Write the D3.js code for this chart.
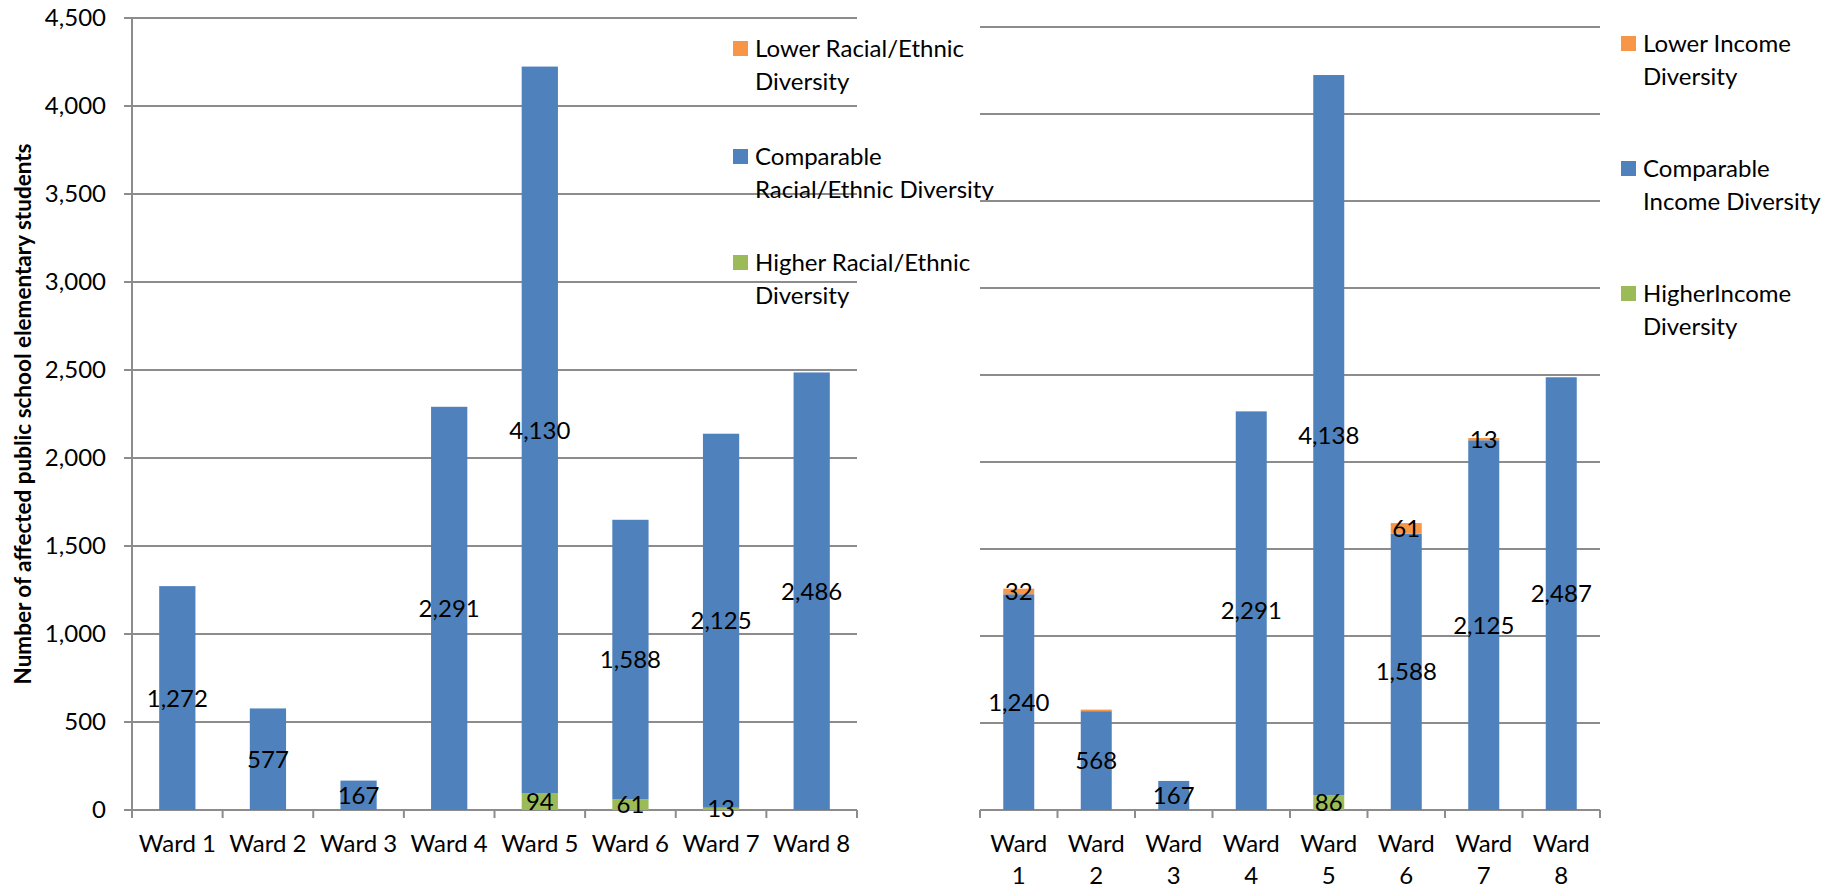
<!DOCTYPE html>
<html>
<head>
<meta charset="utf-8">
<script src="https://cdn.jsdelivr.net/npm/d3@7"></script>
<style>
  html, body { margin: 0; padding: 0; background: #fff; }
  svg { display: block; }
  text { font-family: Lato, "Open Sans", sans-serif; fill: #000; }
</style>
</head>
<body>
<svg id="chart" width="1827" height="890"></svg>
<script>
// Wards shown along both category axes
const wards = ["Ward 1", "Ward 2", "Ward 3", "Ward 4", "Ward 5", "Ward 6", "Ward 7", "Ward 8"];

// Racial/ethnic diversity comparison (left panel)
const raceLower      = [0, 0, 0, 0, 0, 0, 0, 0];
const raceComparable = [1272, 577, 167, 2291, 4130, 1588, 2125, 2486];
const raceHigher     = [0, 0, 0, 0, 94, 61, 13, 0];

// Income diversity comparison (right panel)
const incomeLower      = [32, 9, 0, 0, 0, 61, 13, 0];
const incomeComparable = [1240, 568, 167, 2291, 4138, 1588, 2125, 2487];
const incomeHigher     = [0, 0, 0, 0, 86, 0, 0, 0];

// Value axis ticks
const yTicks = [0, 500, 1000, 1500, 2000, 2500, 3000, 3500, 4000, 4500];

// Legend entries (each line of wrapped text is its own string)
const raceLegend = [
  ["Lower Racial/Ethnic", "Diversity"],
  ["Comparable", "Racial/Ethnic Diversity"],
  ["Higher Racial/Ethnic", "Diversity"]
];
const incomeLegend = [
  ["Lower Income", "Diversity"],
  ["Comparable", "Income Diversity"],
  ["HigherIncome", "Diversity"]
];

const yTitle = "Number of affected public school elementary students";

const colors = { lower: "#F79646", comparable: "#4F81BD", higher: "#9BBB59" };
const gridColor = "#8c8c8c";
const fontSize = 24;
const minLabelValue = 10;
const fmt = d3.format(",");

const svg = d3.select("#chart");

function drawPanel(opt) {
  const g = svg.append("g");
  const x = d3.scaleBand().domain(wards).range([opt.x0, opt.x1]).padding(0);
  const y = d3.scaleLinear().domain([0, 4500]).range([opt.yBase, opt.yTop]);
  const barW = x.bandwidth() * 0.4;

  // Horizontal gridlines
  g.append("g").selectAll("line").data(yTicks).join("line")
    .attr("x1", opt.x0 - (opt.yLabels ? 8 : 0)).attr("x2", opt.x1)
    .attr("y1", d => y(d)).attr("y2", d => y(d))
    .attr("stroke", gridColor).attr("stroke-width", 2);

  // Value axis (left panel only)
  if (opt.yLabels) {
    const axis = d3.axisLeft(y).tickValues(yTicks).tickFormat(fmt).tickSize(0).tickPadding(26);
    const ag = g.append("g").attr("transform", `translate(${opt.x0},0)`).call(axis);
    ag.select(".domain").remove();
    ag.selectAll("text").style("font-size", fontSize + "px")
      .style("font-family", "Lato, 'Open Sans', sans-serif").attr("fill", "#000");
    g.append("line").attr("x1", opt.x0).attr("x2", opt.x0)
      .attr("y1", y(4500)).attr("y2", opt.yBase + 8)
      .attr("stroke", gridColor).attr("stroke-width", 2);
  }

  // Category axis ticks at band boundaries
  const bounds = wards.map(w => x(w)).concat([opt.x1]);
  g.append("g").selectAll("line").data(bounds).join("line")
    .attr("x1", d => d).attr("x2", d => d)
    .attr("y1", opt.yBase).attr("y2", opt.yBase + 8)
    .attr("stroke", gridColor).attr("stroke-width", 2);

  // Stacked bars
  const rows = wards.map((w, i) => ({
    ward: w,
    higher: opt.higher[i],
    comparable: opt.comparable[i],
    lower: opt.lower[i]
  }));
  const keys = ["higher", "comparable", "lower"];
  const series = d3.stack().keys(keys)(rows);

  const layers = g.append("g").selectAll("g").data(series).join("g")
    .attr("fill", s => colors[s.key]);
  layers.selectAll("rect").data(s => s.filter(d => d[1] - d[0] > 0)).join("rect")
    .attr("x", d => x(d.data.ward) + (x.bandwidth() - barW) / 2)
    .attr("width", barW)
    .attr("y", d => y(d[1]))
    .attr("height", d => y(d[0]) - y(d[1]));

  // Value labels, centred on each segment
  const labels = [];
  series.forEach(s => s.forEach(d => {
    const v = d[1] - d[0];
    if (v >= minLabelValue) labels.push({ ward: d.data.ward, v, mid: (d[0] + d[1]) / 2 });
  }));
  g.append("g").selectAll("text").data(labels).join("text")
    .attr("x", d => x(d.ward) + x.bandwidth() / 2)
    .attr("y", d => y(d.mid))
    .attr("dy", "0.36em")
    .attr("text-anchor", "middle")
    .style("font-size", fontSize + "px")
    .text(d => fmt(d.v));

  // Category labels
  const cat = g.append("g").selectAll("text").data(wards).join("text")
    .attr("x", d => x(d) + x.bandwidth() / 2)
    .attr("y", opt.yBase + 42)
    .attr("text-anchor", "middle")
    .style("font-size", fontSize + "px");
  if (opt.wrapCats) {
    cat.each(function (d) {
      const parts = d.split(" ");
      const t = d3.select(this);
      t.append("tspan").attr("x", t.attr("x")).attr("dy", 0).text(parts[0]);
      t.append("tspan").attr("x", t.attr("x")).attr("dy", 32).text(parts[1]);
    });
  } else {
    cat.text(d => d);
  }

  // Legend
  const lg = g.append("g");
  const legendKeys = ["lower", "comparable", "higher"];
  opt.legend.forEach((lines, i) => {
    const top = opt.legendY[i];
    lg.append("rect")
      .attr("x", opt.legendX).attr("y", top)
      .attr("width", 15).attr("height", 15)
      .attr("fill", colors[legendKeys[i]]);
    lines.forEach((line, j) => {
      lg.append("text")
        .attr("x", opt.legendX + 22)
        .attr("y", top + 7.5 + j * 33)
        .attr("dy", "0.36em")
        .style("font-size", fontSize + "px")
        .text(line);
    });
  });
}

drawPanel({
  x0: 132, x1: 857, yBase: 810, yTop: 18,
  yLabels: true, wrapCats: false,
  lower: raceLower, comparable: raceComparable, higher: raceHigher,
  legend: raceLegend, legendX: 733, legendY: [41, 149, 255]
});

drawPanel({
  x0: 980, x1: 1600, yBase: 810, yTop: 27,
  yLabels: false, wrapCats: true,
  lower: incomeLower, comparable: incomeComparable, higher: incomeHigher,
  legend: incomeLegend, legendX: 1621, legendY: [36, 161, 286]
});

// Value axis title
svg.append("text")
  .attr("transform", "translate(23,414) rotate(-90)")
  .attr("text-anchor", "middle")
  .attr("dy", "0.36em")
  .style("font-size", "22.5px")
  .style("font-weight", "bold")
  .text(yTitle);
</script>
</body>
</html>
